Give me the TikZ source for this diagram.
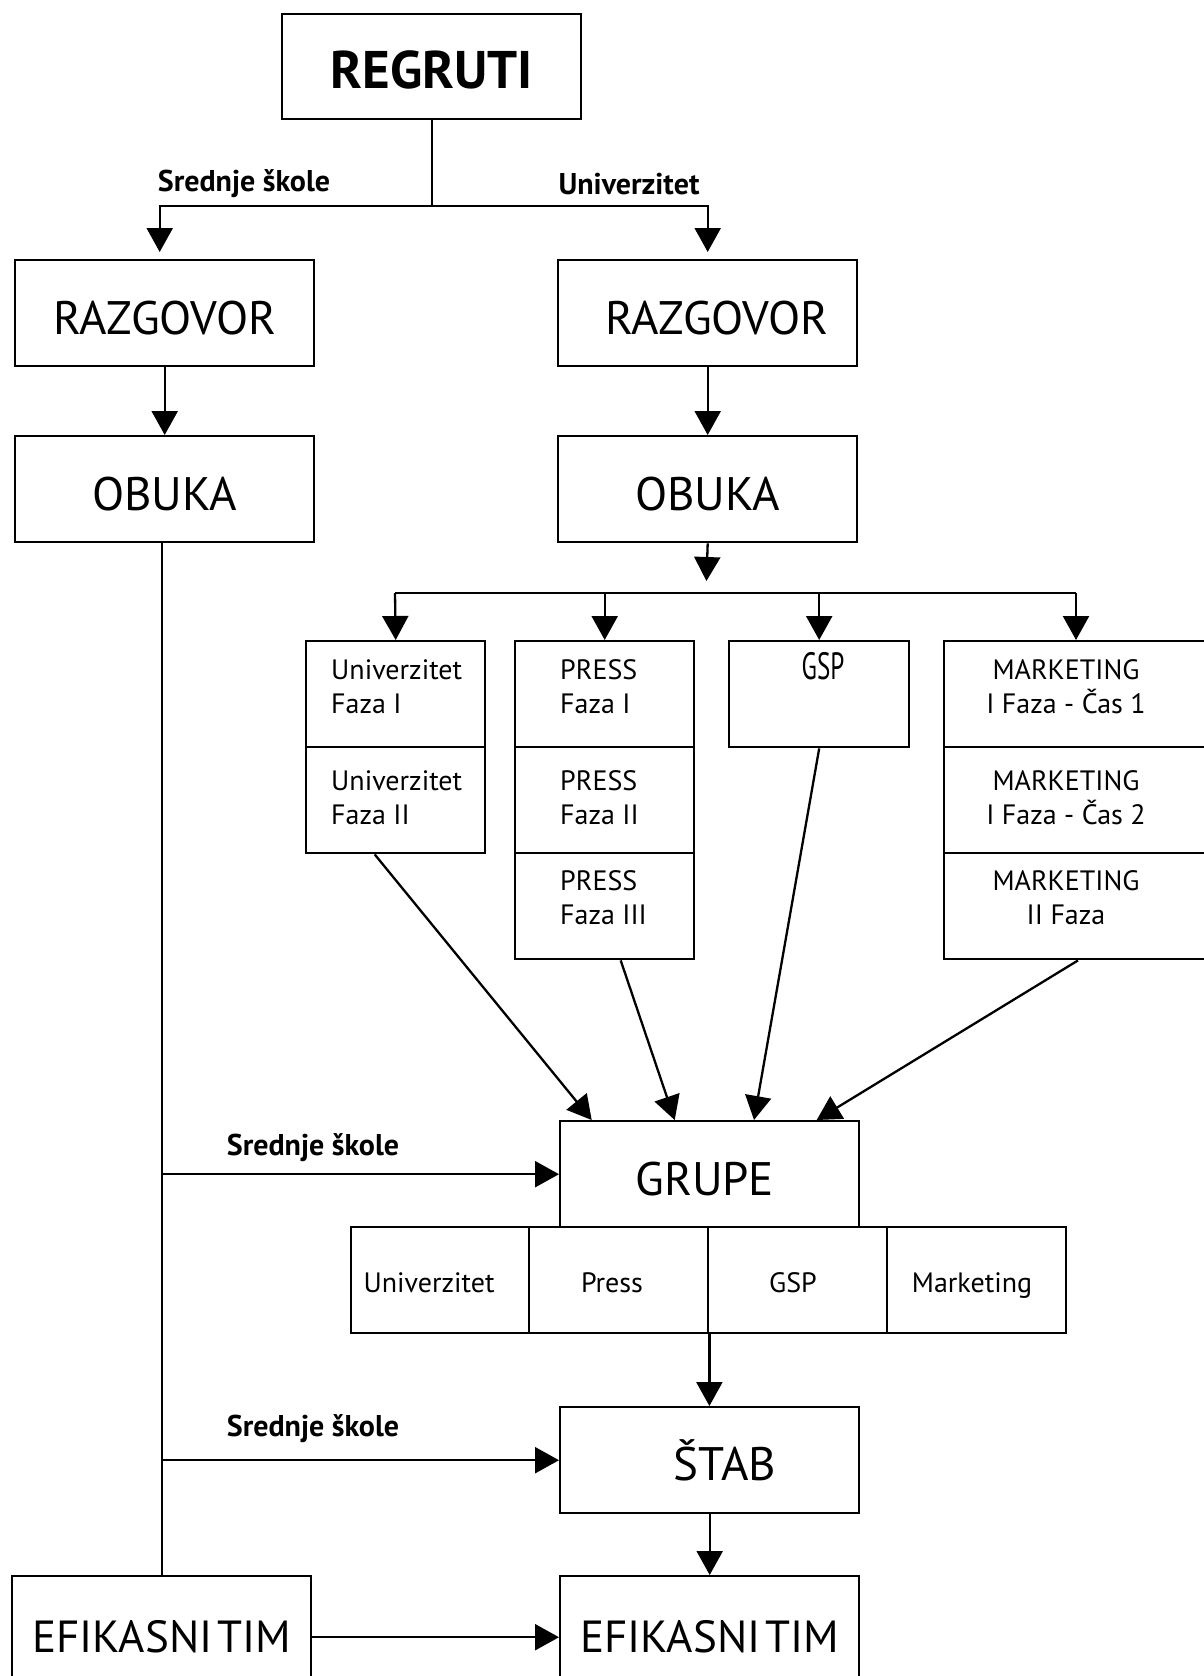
\documentclass[tikz,border=0pt]{standalone}
\usepackage{fontspec}
\setmainfont{PT Sans}
\usetikzlibrary{arrows.meta}
\newcommand{\bigtxt}[2][-5pt]{\raisebox{#1}[\height][0pt]{#2}}
\begin{document}
\begin{tikzpicture}[x=1pt,y=-1pt,
 box/.style={draw, line width=2.4pt, minimum width=299pt, minimum height=106pt, inner sep=0pt, anchor=north west, font=\fontsize{47}{50}\selectfont},
 cell/.style={draw, line width=2.4pt, minimum width=179pt, minimum height=106pt, inner sep=0pt, anchor=north west},
 ctext/.style={font=\fontsize{28}{34}\selectfont, align=left, anchor=west, inner sep=0pt},
 mtext/.style={font=\fontsize{28}{34}\selectfont, align=center, inner sep=0pt},
 stext/.style={font=\fontsize{28}{34}\selectfont, anchor=base, inner sep=0pt},
 lbl/.style={font=\bfseries\fontsize{30}{32}\selectfont, inner sep=0pt},
 conn/.style={line width=2.3pt},
 arr/.style={line width=2.3pt, -{Triangle[length=24pt,width=26pt]}}]
\useasboundingbox (0,0) rectangle (1204,1676);
\clip (0,0) rectangle (1204,1676);

% top
\node[box, font=\bfseries\fontsize{53}{56}\selectfont, minimum height=105pt] (regruti) at (281,13) {\bigtxt[-3pt]{REGRUTI}};
\node[box] (razL) at (14,259) {\bigtxt{RAZGOVOR}};
\node[box] (razR) at (557,259) {\bigtxt{\hspace*{18pt}RAZGOVOR}};
\node[box] (obL) at (14,435) {\bigtxt{OBUKA}};
\node[box] (obR) at (557,435) {\bigtxt{OBUKA}};

\coordinate (tj) at (432,206);
\draw[conn] (regruti.south -| tj) -- (tj);
\draw[arr, shorten >=7pt] (tj) -| ([xshift=-5pt]razL.north);
\draw[arr, shorten >=7pt] (tj) -| (razR.north);
\node[lbl] (lS) at (244,184) {Srednje škole};
\node[lbl] (lU) at (629,184) {Univerzitet};
\draw[arr] (razL) -- (obL);
\draw[arr] (razR) -- (obR);

% branch bar
\coordinate (bar) at (706,593);
\coordinate (barL) at (395,593);
\coordinate (barR) at (1076,593);
\draw[arr, shorten >=12pt] (obR.south) -- (bar);
\draw[conn] (barL) -- (barR);

% cells
\node[cell] (u1) at (305,640) {};
\node[cell] (u2) at (305,746) {};
\node[cell] (p1) at (514,640) {};
\node[cell] (p2) at (514,746) {};
\node[cell] (p3) at (514,852) {};
\node[cell, minimum width=180pt] (g1) at (728,640) {};
\node[cell, minimum width=272pt] (m1) at (943,640) {};
\node[cell, minimum width=272pt] (m2) at (943,746) {};
\node[cell, minimum width=272pt] (m3) at (943,852) {};

\node[ctext] (tu1) at (331,687) {Univerzitet\\Faza I};
\node[ctext] (tu2) at (331,798) {Univerzitet\\Faza II};
\node[ctext] (tp1) at (560,687) {PRESS\\Faza I};
\node[ctext] (tp2) at (560,798) {PRESS\\Faza II};
\node[ctext] (tp3) at (560,898) {PRESS\\Faza III};
\node[inner sep=0pt, font=\fontsize{38}{40}\selectfont] (tg1) at (823,666) {\scalebox{0.66}[1]{GSP}};
\node[mtext] (tm1) at (1066,687) {MARKETING\\I Faza - Čas 1};
\node[mtext] (tm2) at (1066,798) {MARKETING\\I Faza - Čas 2};
\node[mtext] (tm3) at (1066,898) {MARKETING\\II Faza};

\draw[arr] (barL) -- (u1.north);
\draw[arr] (barL -| p1.north) -- (p1.north);
\draw[arr] (barL -| g1.north) -- (g1.north);
\draw[arr] (barR) -- (barR |- m1.north);

% grupe
\node[box] (grupe) at (559,1120) {\bigtxt{GRUPE\hspace*{10pt}}};
\node[cell, minimum width=178pt] (s1) at (350,1226) {};
\node[cell] (s2) at (528,1226) {};
\node[cell] (s3) at (707,1226) {};
\node[cell] (s4) at (886,1226) {};
\node[stext] (ts1) at (429,1292) {Univerzitet};
\node[stext] (ts2) at (612,1292) {Press};
\node[stext] (ts3) at (793,1292) {GSP};
\node[stext] (ts4) at (972,1292) {Marketing};

\draw[arr] ([xshift=-21pt]u2.south) -- ([xshift=-118pt]grupe.north);
\draw[arr] ([xshift=16pt]p3.south) -- ([xshift=-35pt]grupe.north);
\draw[arr] (g1.south) -- ([xshift=195pt]grupe.north west);
\draw[arr] ([xshift=135pt]m3.south west) -- ([xshift=107pt]grupe.north);

% stab, efikasni
\node[box] (stab) at (559,1406) {\hspace*{30pt}ŠTAB};
\node[box, minimum height=122pt, font=\fontsize{45}{48}\selectfont] (efR) at (559,1575) {EFIKASNI\hspace{5pt}TIM};
\node[box, minimum height=122pt, font=\fontsize{45}{48}\selectfont] (efL) at (11,1575) {EFIKASNI\hspace{5pt}TIM};

\draw[arr] (s2.south east) -- (s2.south east |- stab.north);
\draw[arr] (stab) -- (stab.south |- efR.north);

\draw[conn] (obL.south -| efL.north) -- (efL.north);
\draw[arr] (efL.north |- grupe.west) -- (grupe.west);
\draw[arr] (efL.north |- stab.west) -- (stab.west);
\node[lbl] (lS2) at (313,1148) {Srednje škole};
\node[lbl] (lS3) at (313,1429) {Srednje škole};
\draw[arr] (efL.east) -- (efR.west);
\end{tikzpicture}
\end{document}
